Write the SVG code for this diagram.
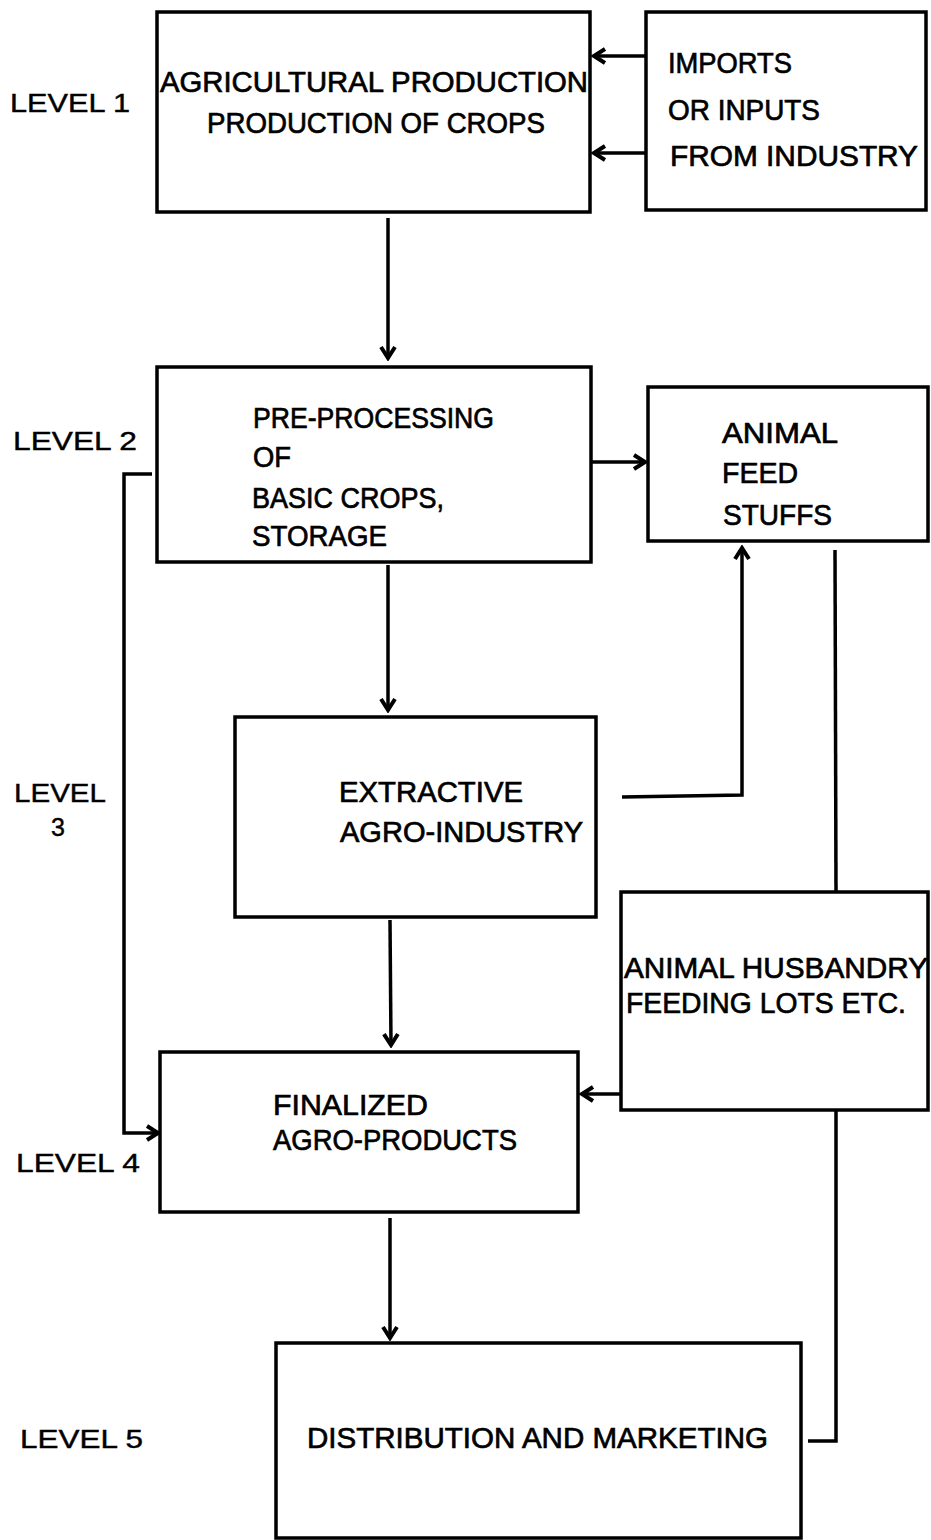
<svg xmlns="http://www.w3.org/2000/svg" width="931" height="1540" viewBox="0 0 931 1540">
<style>
.box{fill:none;stroke:#000;stroke-width:3.5}
.ln{fill:none;stroke:#000;stroke-width:3.5}
text{font-family:"Liberation Sans",Arial,sans-serif;font-size:30px;fill:#000;stroke:#000;stroke-width:0.7}
.lv{font-size:25px;stroke-width:0.4}
</style>
<defs>
<marker id="ah" viewBox="0 0 18 18" refX="15" refY="9" markerWidth="18" markerHeight="18" markerUnits="userSpaceOnUse" orient="auto">
<polyline points="4,2 15,9 4,16" fill="none" stroke="#000" stroke-width="4" stroke-linejoin="miter"/>
</marker>
</defs>
<rect width="931" height="1540" fill="#fff"/>
<g id="levels">
<text class="lv" x="10" y="112" textLength="120" lengthAdjust="spacingAndGlyphs">LEVEL 1</text>
<text class="lv" x="13" y="450" textLength="124" lengthAdjust="spacingAndGlyphs">LEVEL 2</text>
<text class="lv" x="14" y="802" textLength="92" lengthAdjust="spacingAndGlyphs">LEVEL</text>
<text class="lv" x="51" y="836">3</text>
<text class="lv" x="16" y="1172" textLength="124" lengthAdjust="spacingAndGlyphs">LEVEL 4</text>
<text class="lv" x="20" y="1448" textLength="123" lengthAdjust="spacingAndGlyphs">LEVEL 5</text>
</g>
<g id="agri">
<rect class="box" x="157" y="12" width="433" height="200"/>
<text x="160" y="92" textLength="428" lengthAdjust="spacingAndGlyphs">AGRICULTURAL PRODUCTION</text>
<text x="207" y="133" textLength="338" lengthAdjust="spacingAndGlyphs">PRODUCTION OF CROPS</text>
</g>
<g id="imports">
<rect class="box" x="646" y="12" width="280" height="198"/>
<text x="668" y="73" textLength="124" lengthAdjust="spacingAndGlyphs">IMPORTS</text>
<text x="668" y="120" textLength="152" lengthAdjust="spacingAndGlyphs">OR INPUTS</text>
<text x="670" y="166" textLength="248" lengthAdjust="spacingAndGlyphs">FROM  INDUSTRY</text>
</g>
<g id="preproc">
<rect class="box" x="157" y="367" width="434" height="195"/>
<text x="253" y="428" textLength="241" lengthAdjust="spacingAndGlyphs">PRE-PROCESSING</text>
<text x="253" y="467" textLength="38" lengthAdjust="spacingAndGlyphs">OF</text>
<text x="252" y="508" textLength="192" lengthAdjust="spacingAndGlyphs">BASIC CROPS,</text>
<text x="252" y="546" textLength="135" lengthAdjust="spacingAndGlyphs">STORAGE</text>
</g>
<g id="feed">
<rect class="box" x="648" y="387" width="280" height="154"/>
<text x="722" y="443" textLength="116" lengthAdjust="spacingAndGlyphs">ANIMAL</text>
<text x="722" y="483" textLength="76" lengthAdjust="spacingAndGlyphs">FEED</text>
<text x="723" y="525" textLength="109" lengthAdjust="spacingAndGlyphs">STUFFS</text>
</g>
<g id="extractive">
<rect class="box" x="235" y="717" width="361" height="200"/>
<text x="339" y="802" textLength="184" lengthAdjust="spacingAndGlyphs">EXTRACTIVE</text>
<text x="340" y="842" textLength="243" lengthAdjust="spacingAndGlyphs">AGRO-INDUSTRY</text>
</g>
<g id="husbandry">
<rect class="box" x="621" y="892" width="307" height="218"/>
<text x="624" y="978" textLength="304" lengthAdjust="spacingAndGlyphs">ANIMAL HUSBANDRY</text>
<text x="626" y="1013" textLength="280" lengthAdjust="spacingAndGlyphs">FEEDING LOTS ETC.</text>
</g>
<g id="finalized">
<rect class="box" x="160" y="1052" width="418" height="160"/>
<text x="273" y="1115" textLength="155" lengthAdjust="spacingAndGlyphs">FINALIZED</text>
<text x="273" y="1150" textLength="244" lengthAdjust="spacingAndGlyphs">AGRO-PRODUCTS</text>
</g>
<g id="distribution">
<rect class="box" x="276" y="1343" width="525" height="195"/>
<text x="307" y="1448" textLength="461" lengthAdjust="spacingAndGlyphs">DISTRIBUTION AND MARKETING</text>
</g>
<g id="connectors">
<line class="ln" x1="646" y1="56" x2="594" y2="56" marker-end="url(#ah)"/>
<line class="ln" x1="646" y1="153" x2="594" y2="153" marker-end="url(#ah)"/>
<line class="ln" x1="388" y1="218" x2="388" y2="358" marker-end="url(#ah)"/>
<line class="ln" x1="592" y1="462" x2="645" y2="462" marker-end="url(#ah)"/>
<line class="ln" x1="388" y1="565" x2="388" y2="710" marker-end="url(#ah)"/>
<polyline class="ln" points="622,797 742,795 742,548" marker-end="url(#ah)"/>
<line class="ln" x1="835" y1="550" x2="836" y2="892"/>
<line class="ln" x1="621" y1="1094" x2="582" y2="1094" marker-end="url(#ah)"/>
<line class="ln" x1="390" y1="920" x2="391" y2="1045" marker-end="url(#ah)"/>
<polyline class="ln" points="152,474 124,474 124,1133 158,1133" marker-end="url(#ah)"/>
<line class="ln" x1="390" y1="1218" x2="390" y2="1338" marker-end="url(#ah)"/>
<polyline class="ln" points="808,1441 836,1441 836,1110"/>
</g>
</svg>
